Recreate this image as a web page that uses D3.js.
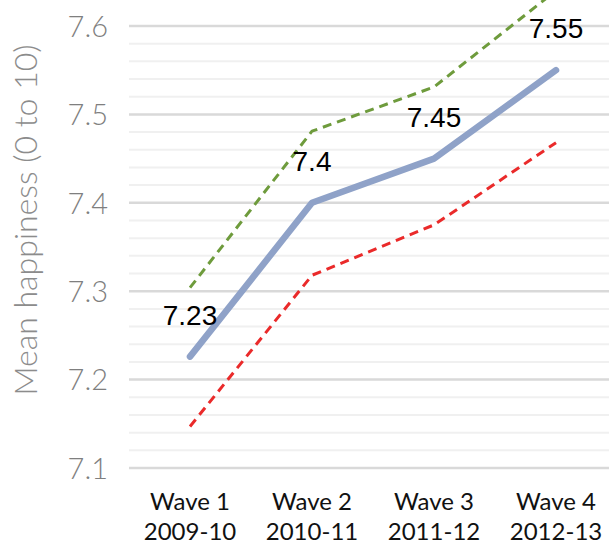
<!DOCTYPE html>
<html>
<head>
<meta charset="utf-8">
<script src="https://cdn.jsdelivr.net/npm/d3@7"></script>
<style>
  html, body { margin: 0; padding: 0; background: #fff; }
  svg { display: block; }
</style>
</head>
<body>
<svg id="chart" width="609" height="545"></svg>
<script>
const waves = ["Wave 1", "Wave 2", "Wave 3", "Wave 4"];
const years = ["2009-10", "2010-11", "2011-12", "2012-13"];
const meanValues = [7.226, 7.40, 7.45, 7.55];
const meanLabels = ["7.23", "7.4", "7.45", "7.55"];
const upperValues = [7.304, 7.481, 7.531, 7.64];
const lowerValues = [7.147, 7.318, 7.375, 7.468];
const yTicks = [7.1, 7.2, 7.3, 7.4, 7.5, 7.6];
const yTickLabels = ["7.1", "7.2", "7.3", "7.4", "7.5", "7.6"];
const minorStep = 0.02;
const yTitle = "Mean happiness (0 to 10)";

const svg = d3.select("#chart");
const W = 609, H = 545;
const gridLeft = 129;

const x = d3.scalePoint().domain(waves).range([190, 556]);
const y = d3.scaleLinear().domain([7.1, 7.6]).range([468, 26]);

// minor gridlines
const minor = d3.range(7.1, 7.6 + 1e-9, minorStep).filter(v => Math.abs(Math.round(v * 10) - v * 10) > 1e-6);
svg.append("g").selectAll("line").data(minor).join("line")
  .attr("x1", gridLeft).attr("x2", W)
  .attr("y1", d => y(d)).attr("y2", d => y(d))
  .attr("stroke", "#f0f0f0").attr("stroke-width", 2);

// major gridlines
svg.append("g").selectAll("line").data(yTicks).join("line")
  .attr("x1", gridLeft).attr("x2", W)
  .attr("y1", d => y(d)).attr("y2", d => y(d))
  .attr("stroke", "#d9d9d9").attr("stroke-width", 2.5);

// y tick labels
svg.append("g").selectAll("text").data(yTicks).join("text")
  .attr("x", 108).attr("y", d => y(d)).attr("dy", "0.37em")
  .attr("text-anchor", "end")
  .attr("font-family", "Lato, 'Open Sans', sans-serif")
  .attr("font-weight", 300)
  .attr("font-size", 29)
  .attr("fill", "#7f7f7f")
  .text((d, i) => yTickLabels[i]);

// y title
svg.append("text")
  .attr("transform", "translate(37,220) rotate(-90)")
  .attr("text-anchor", "middle")
  .attr("font-family", "Lato, 'Open Sans', sans-serif")
  .attr("font-weight", 300)
  .attr("font-size", 32)
  .attr("fill", "#8c8c8c")
  .text(yTitle);

// x category labels
const xl = svg.append("g").selectAll("text").data(waves).join("text")
  .attr("x", d => x(d))
  .attr("text-anchor", "middle")
  .attr("font-family", "Lato, sans-serif")
  .attr("font-size", 24)
  .attr("fill", "#111");
xl.append("tspan").attr("x", d => x(d)).attr("y", 510).text(d => d);
xl.append("tspan").attr("x", d => x(d)).attr("y", 540).text((d, i) => years[i]);

const line = d3.line().x(d => x(d.k)).y(d => y(d.v));
const mk = arr => arr.map((v, i) => ({ k: waves[i], v }));

svg.append("path").datum(mk(upperValues))
  .attr("d", line).attr("fill", "none")
  .attr("stroke", "#6e9b3c").attr("stroke-width", 3)
  .attr("stroke-dasharray", "9,6").attr("stroke-linejoin", "round");

svg.append("path").datum(mk(lowerValues))
  .attr("d", line).attr("fill", "none")
  .attr("stroke", "#ea2a2a").attr("stroke-width", 3)
  .attr("stroke-dasharray", "9,6").attr("stroke-linejoin", "round");

svg.append("path").datum(mk(meanValues))
  .attr("d", line).attr("fill", "none")
  .attr("stroke", "#8fa2c8").attr("stroke-width", 6.5)
  .attr("stroke-linejoin", "round").attr("stroke-linecap", "round");

// data labels
svg.append("g").selectAll("text").data(mk(meanValues)).join("text")
  .attr("x", d => x(d.k)).attr("y", d => y(d.v) - 32)
  .attr("text-anchor", "middle")
  .attr("font-family", "'Liberation Sans', Arial, sans-serif")
  .attr("font-size", 28)
  .attr("fill", "#000")
  .text((d, i) => meanLabels[i]);
</script>
</body>
</html>
